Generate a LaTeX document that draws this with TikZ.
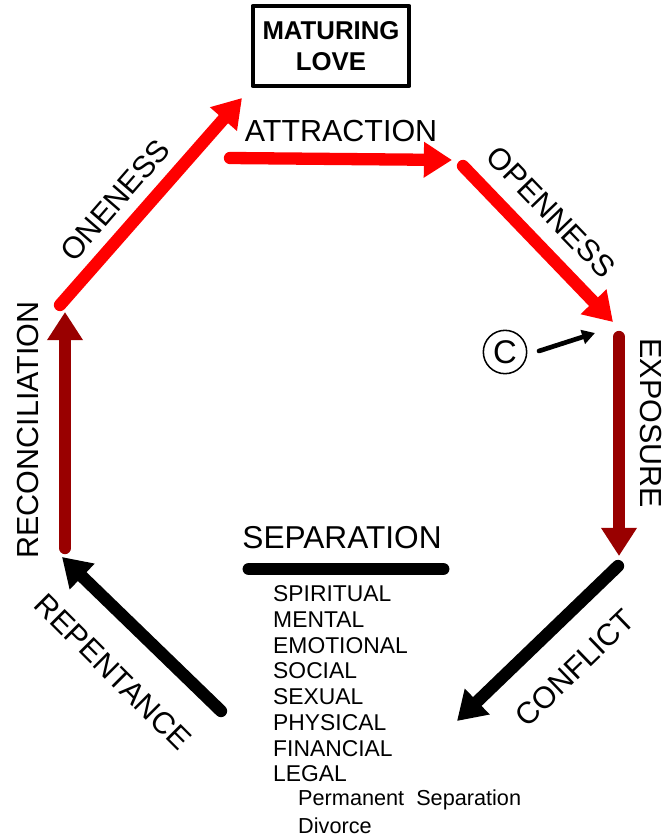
\documentclass[tikz,border=0pt]{standalone}
\usepackage{fontspec}
\setmainfont{Liberation Sans}
\usetikzlibrary{arrows.meta}
\definecolor{loveRed}{RGB}{255,0,0}
\definecolor{darkRed}{RGB}{153,0,0}
\begin{document}
\begin{tikzpicture}[x=0.03cm,y=-0.03cm,line cap=round,line join=round,
		stage/.style={line width=10.5pt,-{Triangle[length=24pt,width=29pt]}},
		lbl/.style={inner sep=0pt,font=\fontsize{26}{30}\selectfont},
		item/.style={anchor=west,inner sep=0pt,font=\fontsize{19.5}{22}\selectfont}]
	\useasboundingbox (0,0) rectangle (670,838);
	\def\gap{25.7}
	% goal box
	\node[draw,line width=3.6pt,minimum width=4.7cm,minimum height=2.4cm,align=center,
		font=\bfseries\fontsize{22}{26}\selectfont] (love) at (331,46) {MATURING\\LOVE};
	% ends of the stage arrows
	\coordinate (one0) at (60,305);   \coordinate (one1) at (242,98);
	\coordinate (att0) at (230,158);  \coordinate (att1) at (452,160);
	\coordinate (ope0) at (463,166);  \coordinate (ope1) at (613,322);
	\coordinate (exp0) at (619,337);  \coordinate (exp1) at (619,556);
	\coordinate (con0) at (618,566);  \coordinate (con1) at (457,721);
	\coordinate (rep0) at (221,711);  \coordinate (rep1) at (62,557);
	\coordinate (rec0) at (65,548);   \coordinate (rec1) at (65,312);
	\draw[stage,loveRed] (one0) -- (one1);
	\draw[stage,loveRed] (att0) -- (att1);
	\draw[stage,loveRed] (ope0) -- (ope1);
	\draw[stage,darkRed] (exp0) -- (exp1);
	\draw[stage,black] (con0) -- (con1);
	\draw[stage,black] (rep0) -- (rep1);
	\draw[stage,darkRed] (rec0) -- (rec1);
	% stage names
	\node[lbl,rotate=49] (oneness) at (115,200) {ONENESS};
	\node[lbl] (attraction) at (341,131) {ATTRACTION};
	\node[lbl,rotate=-46] (openness) at (551,212) {OPENNESS};
	\node[lbl,rotate=-90] (exposure) at (651,423) {EXPOSURE};
	\node[lbl,rotate=44] (conflict) at (575,668) {CONFLICT};
	\node[lbl,rotate=-45] (repentance) at (113,672) {REPENTANCE};
	\node[lbl,rotate=90] (reconciliation) at (28,430) {RECONCILIATION};
	% copyright mark
	\node[draw,circle,line width=1.3pt,minimum size=1.3cm,inner sep=0pt,
		font=\fontsize{28}{30}\selectfont] (copy) at (505,352) {C};
	\coordinate (mark0) at (539,351);
	\coordinate (mark) at (595,333);
	\draw[line width=4pt,-{Triangle[length=11pt,width=12pt]}] (mark0) -- (mark);
	% separation and its kinds
	\node[inner sep=0pt,font=\fontsize{27}{30}\selectfont] (sep) at (342,538) {SEPARATION};
	\coordinate (bar0) at (249,569); \coordinate (bar1) at (443,569);
	\draw[line width=11pt] (bar0) -- (bar1);
	\foreach \t [count=\i from 0] in {SPIRITUAL,MENTAL,EMOTIONAL,SOCIAL,SEXUAL,PHYSICAL,FINANCIAL,LEGAL}
		\node[item] (kind\i) at (273,594+\i*\gap) {\t};
	\node[item,font=\fontsize{18.5}{22}\selectfont] (perm) at (298,594+8*\gap) {Permanent\ \ Separation};
	\node[item,font=\fontsize{18.5}{22}\selectfont] (div) at (298,594+9*\gap) {Divorce};
\end{tikzpicture}
\end{document}
